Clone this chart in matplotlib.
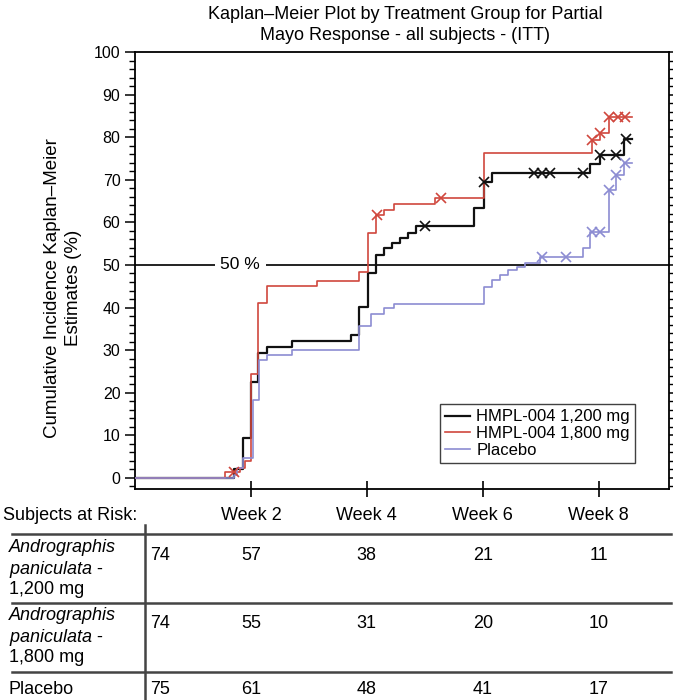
import matplotlib
matplotlib.use("Agg")
import matplotlib.pyplot as plt
import matplotlib.transforms as mtransforms
from matplotlib.ticker import MultipleLocator

plt.rcParams["font.family"] = ["Liberation Sans", "DejaVu Sans"]
plt.rcParams["mathtext.fontset"] = "custom"
plt.rcParams["mathtext.it"] = "Liberation Sans:italic"
plt.rcParams["mathtext.rm"] = "Liberation Sans"

# step curves: day of event, cumulative incidence (%) after the step
days_1200 = [0, 12.0, 13.0, 14.0, 14.9, 15.9, 19.0, 26.1, 27.1, 28.1, 29.1, 30.1, 31.0,
             32.0, 33.0, 34.0, 41.0, 42.1, 43.1, 55.0, 56.2, 59.1]
km_1200 = [0, 2.0, 9.4, 22.5, 29.3, 30.7, 32.1, 33.5, 40.2, 48.1, 52.3, 53.9, 55.1,
           56.3, 57.5, 59.2, 63.4, 69.5, 71.6, 73.7, 75.8, 79.6]
cens_days_1200 = [35.0, 42.2, 48.2, 49.2, 50.1, 54.1, 56.2, 58.1, 59.3]
cens_km_1200 = [59.2, 69.5, 71.6, 71.6, 71.6, 71.6, 75.8, 75.8, 79.6]

days_1800 = [0, 10.9, 12.7, 13.3, 14.0, 14.9, 15.9, 22.0, 27.0, 28.1, 29.1, 30.1, 31.3,
             36.2, 42.1, 55.2, 56.2, 57.3]
km_1800 = [0, 1.3, 2.3, 4.0, 24.5, 41.0, 45.0, 46.3, 48.4, 57.5, 61.7, 62.9, 64.4,
           65.8, 76.3, 79.3, 81.0, 84.7]
cens_days_1800 = [12.0, 29.2, 37.0, 55.2, 56.2, 57.3, 58.3, 59.2]
cens_km_1800 = [1.3, 61.7, 65.8, 79.3, 81.0, 84.7, 84.7, 84.7]

days_pbo = [0, 11.9, 12.3, 13.1, 14.2, 15.0, 16.0, 19.0, 27.1, 28.5, 30.1, 31.3, 42.1,
            43.1, 44.1, 45.1, 46.1, 47.1, 48.9, 54.1, 55.0, 57.3, 58.1, 59.1]
km_pbo = [0, 0.8, 2.3, 4.6, 18.3, 27.7, 28.9, 30.0, 35.7, 38.4, 39.9, 40.8, 44.9,
          46.5, 47.7, 48.8, 49.6, 50.5, 51.8, 54.0, 57.7, 67.6, 71.1, 74.0]
cens_days_pbo = [49.1, 52.0, 55.2, 56.2, 57.3, 58.1, 59.2]
cens_km_pbo = [51.8, 51.8, 57.7, 57.7, 67.6, 71.1, 74.0]

last_day = 60.0

legend_labels = ["HMPL-004 1,200 mg", "HMPL-004 1,800 mg", "Placebo"]

week_days = [14, 28, 42, 56]
week_labels = ["Week 2", "Week 4", "Week 6", "Week 8"]
risk_rows = [
    ["Andrographis", "$\\it{paniculata}$ -", "1,200 mg"],
    ["Andrographis", "$\\it{paniculata}$ -", "1,800 mg"],
    ["Placebo"],
]
risk_start = [74, 74, 75]
risk_counts = [
    [57, 38, 21, 11],
    [55, 31, 20, 10],
    [61, 48, 41, 17],
]

W, H = 673, 700
fig = plt.figure(figsize=(W / 100, H / 100), dpi=100)


def fx(px):
    return px / W


def fy(py):
    return 1 - py / H


ax = fig.add_axes([fx(135), fy(489), fx(669 - 135), (489 - 52) / H])

black = "#111111"
red = "#d0473d"
blue = "#8c8cd2"

series = [
    (days_1200, km_1200, cens_days_1200, cens_km_1200, black, 1.6),
    (days_1800, km_1800, cens_days_1800, cens_km_1800, red, 1.2),
    (days_pbo, km_pbo, cens_days_pbo, cens_km_pbo, blue, 1.2),
]
handles = []
for (d, k, cd, ck, col, lw), lab in zip(series, legend_labels):
    xs = list(d) + [last_day]
    ys = list(k) + [k[-1]]
    (h,) = ax.step(xs, ys, where="post", color=col, lw=lw, label=lab, zorder=3)
    ax.plot(cd, ck, ls="none", marker="x", ms=6.5, mew=1.2, color=col, zorder=4)
    handles.append(h)

ax.axhline(50, color=black, lw=1.3, zorder=2)
ax.text(12.7, 50, "50 %", ha="center", va="center", fontsize=12.5, zorder=2.5,
        bbox=dict(facecolor="white", edgecolor="none", pad=4))

ax.set_xlim(0, 64.5)
ax.set_ylim(-2.6, 100)
ax.set_xticks(week_days)
ax.set_xticklabels([])
ax.yaxis.set_major_locator(MultipleLocator(10))
ax.yaxis.set_minor_locator(MultipleLocator(2))
ax.tick_params(axis="x", direction="inout", length=12, width=1.2)
ax.tick_params(axis="y", which="major", direction="out", length=7, width=1.1,
               labelsize=11.5, right=True)
ax.tick_params(axis="y", which="minor", direction="out", length=4, width=1.0, right=True)
for s in ax.spines.values():
    s.set_linewidth(1.3)

leg = ax.legend(handles=handles, loc="lower right", bbox_to_anchor=(0.936, 0.06),
                fontsize=12, frameon=True, fancybox=False, borderpad=0.3,
                labelspacing=0.1, handlelength=1.5, handletextpad=0.4,
                borderaxespad=0)
leg.get_frame().set_edgecolor(black)
leg.get_frame().set_linewidth(1.0)

fig.text(fx(405), fy(25),
         "Kaplan\u2013Meier Plot by Treatment Group for Partial\nMayo Response - all subjects - (ITT)",
         ha="center", va="center", fontsize=13, linespacing=1.25)
fig.text(fx(63), fy(288), "Cumulative Incidence Kaplan\u2013Meier\nEstimates (%)",
         ha="center", va="center", rotation=90, fontsize=13.5, linespacing=1.3)

# subjects at risk table
tr = mtransforms.blended_transform_factory(ax.transData, fig.transFigure)
fs = 13
fig.text(fx(3), fy(515), "Subjects at Risk:", ha="left", va="center", fontsize=fs)
for d, lab in zip(week_days, week_labels):
    fig.text(d, fy(515), lab, ha="center", va="center", fontsize=fs, transform=tr)

line_kw = dict(color="#444444", lw=1.8, transform=fig.transFigure)
for py in [534, 603, 672]:
    fig.add_artist(plt.Line2D([fx(12), fx(671)], [fy(py), fy(py)], **line_kw))
fig.add_artist(plt.Line2D([fx(145), fx(145)], [fy(525), fy(700)], **line_kw))

row_tops = [548, 616, 690]
num_y = [556, 623, 690]
for r, lines in enumerate(risk_rows):
    for i, txt in enumerate(lines):
        style = "italic" if txt == "Andrographis" else "normal"
        fig.text(fx(9), fy(row_tops[r] + 21 * i), txt, ha="left", va="center",
                 fontsize=fs, style=style)
    fig.text(fx(150), fy(num_y[r]), str(risk_start[r]), ha="left", va="center", fontsize=fs)
    for d, n in zip(week_days, risk_counts[r]):
        fig.text(d, fy(num_y[r]), str(n), ha="center", va="center", fontsize=fs, transform=tr)

fig.savefig("out.png", dpi=100)
